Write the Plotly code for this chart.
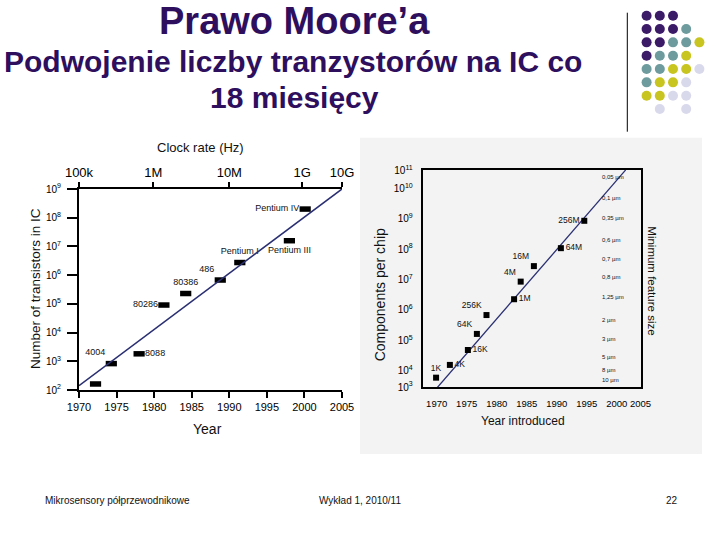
import plotly.graph_objects as go

# ---------------- texts ----------------
title_main = "Prawo Moore’a"
subtitle_1 = "Podwojenie liczby tranzystorów na IC co"
subtitle_2 = "18 miesięcy"
footer_left = "Mikrosensory półprzewodnikowe"
footer_mid = "Wykład 1, 2010/11"
footer_right = "22"

# ---------------- left chart data ----------------
cpu_names = ["", "4004", "8088", "80286", "80386", "486", "Pentium I", "Pentium III", "Pentium IV"]
cpu_years = [1972.2, 1974.3, 1978.0, 1981.3, 1984.2, 1988.8, 1991.4, 1998.0, 2000.1]
cpu_transistors = [162, 830, 1820, 91000, 229000, 676000, 2.75e6, 1.58e7, 2.0e8]
left_trend_years = [1970, 2005]
left_trend_vals = [141, 1e9]
left_year_ticks = [1970, 1975, 1980, 1985, 1990, 1995, 2000, 2005]
left_pow_ticks = [2, 3, 4, 5, 6, 7, 8, 9]
clock_tick_years = [1970, 1979.9, 1990, 1999.7, 2005]
clock_labels = ["100k", "1M", "10M", "1G", "10G"]

# ---------------- right chart data ----------------
dram_names = ["1K", "4K", "16K", "64K", "256K", "1M", "4M", "16M", "64M", "256M"]
dram_years = [1969.9, 1972.2, 1975.2, 1976.7, 1978.3, 1982.9, 1984.0, 1986.2, 1990.7, 1994.6]
dram_components = [5900, 15500, 47900, 162000, 676000, 2.24e6, 8.5e6, 2.75e7, 1.07e8, 8.5e8]
right_trend_years = [1969.5, 2001.5]
right_trend_vals = [2040, 4.0e10]
right_year_ticks = [1970, 1975, 1980, 1985, 1990, 1995, 2000, 2003.98]
right_year_labels = ["1970", "1975", "1980", "1985", "1990", "1995", "2000", "2005"]
right_pow_pos = [3.462, 4, 5, 6, 7, 8, 9, 10, 10.59]
right_pow_labels = [3, 4, 5, 6, 7, 8, 9, 10, 11]
feature_labels = ["0,05 µm", "0,1 µm", "0,35 µm", "0,6 µm", "0,7 µm", "0,8 µm",
                  "1,25 µm", "2 µm", "3 µm", "5 µm", "8 µm", "10 µm"]
feature_pos = [10.38, 9.69, 9.01, 8.30, 7.68, 7.07, 6.42, 5.68, 5.04, 4.45, 4.03, 3.69]

# ---------------- decorative dots ----------------
dot_rows = [0, 0, 0, 1, 1, 1, 1, 2, 2, 2, 2, 2, 3, 3, 3, 3, 4, 4, 4, 4, 4,
            5, 5, 5, 5, 6, 6, 6, 6, 7, 7]
dot_cols = [0, 1, 2, 0, 1, 2, 3, 0, 1, 2, 3, 4, 0, 1, 2, 3, 0, 1, 2, 3, 4,
            0, 1, 2, 3, 0, 1, 2, 3, 1, 3]
dot_kind = ["P", "P", "P", "P", "P", "P", "T", "P", "P", "T", "T", "Y", "P", "T", "T", "Y",
            "T", "T", "Y", "Y", "L", "T", "Y", "Y", "L", "Y", "Y", "L", "L", "L", "L"]

# ---------------- styles ----------------
FONT = "Liberation Sans, Arial, sans-serif"
PURPLE = "#2e0f5e"
NAVY = "#2a2f72"
palette = {"P": "#3b1a68", "T": "#6e9b9d", "Y": "#c9c520", "L": "#d9d9ec"}
cpu_textpos = ["top left", "top left", "middle right", "middle left", "top center",
               "top left", "top center", "bottom center", "middle left"]
dram_textpos = ["top center", "middle right", "middle right", "top left", "top left",
                "middle right", "top left", "top left", "middle right", "middle left"]

fig = go.Figure()

# left chart
fig.add_trace(go.Scatter(x=left_trend_years, y=left_trend_vals, mode="lines",
                         line=dict(color=NAVY, width=1.6), xaxis="x3", yaxis="y",
                         hoverinfo="skip"))
fig.add_trace(go.Scatter(x=cpu_years, y=cpu_transistors, mode="markers+text",
                         text=cpu_names, textposition=cpu_textpos,
                         textfont=dict(size=9, color="#111", family=FONT),
                         marker=dict(symbol="line-ew", size=8, color="black",
                                     line=dict(width=5.5, color="black")),
                         xaxis="x", yaxis="y", cliponaxis=False))

# right chart
fig.add_trace(go.Scatter(x=right_trend_years, y=right_trend_vals, mode="lines",
                         line=dict(color=NAVY, width=1.3), xaxis="x2", yaxis="y2",
                         hoverinfo="skip"))
fig.add_trace(go.Scatter(x=dram_years, y=dram_components, mode="markers+text",
                         text=dram_names, textposition=dram_textpos,
                         textfont=dict(size=8.5, color="#111", family=FONT),
                         marker=dict(symbol="square", size=6, color="black"),
                         xaxis="x2", yaxis="y2", cliponaxis=False))

# decorative dots
fig.add_trace(go.Scatter(x=dot_cols, y=dot_rows, mode="markers",
                         marker=dict(size=10, color=[palette[k] for k in dot_kind]),
                         xaxis="x4", yaxis="y4", hoverinfo="skip"))

ax_common = dict(showgrid=False, zeroline=False, fixedrange=True, color="black",
                 automargin=False)

fig.update_layout(
    width=720, height=540, margin=dict(l=0, r=0, t=0, b=0, pad=0, autoexpand=False),
    paper_bgcolor="white", plot_bgcolor="rgba(0,0,0,0)", showlegend=False,
    font=dict(family=FONT, color="#111"),
    xaxis=dict(**ax_common, domain=[79 / 720, 342 / 720], anchor="y", range=[1970, 2005],
               tickvals=left_year_ticks, ticktext=[str(v) for v in left_year_ticks],
               showline=True, linecolor="black", linewidth=2, tickangle=0,
               ticks="outside", ticklen=6, tickwidth=1.5, tickcolor="black",
               tickfont=dict(size=11)),
    xaxis3=dict(**ax_common, overlaying="x", side="top", anchor="y", range=[1970, 2005],
                tickvals=clock_tick_years, ticktext=clock_labels, tickangle=0,
                showline=True, linecolor="black", linewidth=2,
                ticks="outside", ticklen=5, tickwidth=2, tickcolor="black",
                tickfont=dict(size=13)),
    yaxis=dict(**ax_common, domain=[150 / 540, 351 / 540], anchor="x", type="log",
               range=[2, 9], tickvals=[10 ** k for k in left_pow_ticks],
               ticktext=["10<sup>%d</sup>" % k for k in left_pow_ticks],
               showline=True, linecolor="black", linewidth=2,
               ticks="outside", ticklen=10, tickwidth=2, tickcolor="black",
               ticklabelstandoff=4, tickfont=dict(size=10)),
    xaxis2=dict(**ax_common, domain=[422.7 / 720, 640.7 / 720], anchor="y2", tickangle=0,
                range=[1967.67, 2004.0], tickvals=right_year_ticks, ticktext=right_year_labels,
                showline=True, mirror=True, linecolor="black", linewidth=2,
                ticks="outside", ticklen=6, tickcolor="rgba(0,0,0,0)",
                tickfont=dict(size=9.5)),
    yaxis2=dict(**ax_common, domain=[152.7 / 540, 370 / 540], anchor="x2", type="log",
                range=[3.454, 10.6], tickvals=[10 ** p for p in right_pow_pos],
                ticktext=["10<sup>%d</sup>" % k for k in right_pow_labels],
                showline=True, mirror=True, linecolor="black", linewidth=2,
                ticks="outside", ticklen=6, tickcolor="rgba(0,0,0,0)",
                tickfont=dict(size=10)),
    xaxis4=dict(domain=[640 / 720, 706 / 720], anchor="y4", range=[-0.5, 4.5], visible=False,
                fixedrange=True, automargin=False),
    yaxis4=dict(domain=[424.3 / 540, 531 / 540], anchor="x4", range=[7.5, -0.5], visible=False,
                fixedrange=True, automargin=False),
)

shapes = [
    dict(type="rect", xref="paper", yref="paper", x0=360 / 720, x1=702 / 720,
         y0=(540 - 454) / 540, y1=(540 - 137.7) / 540, fillcolor="#f3f3f3",
         line=dict(width=0), layer="below"),
    dict(type="line", xref="paper", yref="paper", x0=627.3 / 720, x1=627.3 / 720,
         y0=(540 - 131.7) / 540, y1=(540 - 12.7) / 540, line=dict(color="black", width=1)),
]
fig.update_layout(shapes=shapes)


def px(x):
    return x / 720


def py(y):
    return (540 - y) / 540


ann = []
ann.append(dict(text="<b>%s</b>" % title_main, x=px(294), y=py(20.5),
                font=dict(size=38, color=PURPLE, family=FONT), xanchor="center", yanchor="middle"))
ann.append(dict(text="<b>%s</b>" % subtitle_1, x=px(293), y=py(61.2),
                font=dict(size=30, color=PURPLE, family=FONT), xanchor="center", yanchor="middle"))
ann.append(dict(text="<b>%s</b>" % subtitle_2, x=px(294), y=py(97.5),
                font=dict(size=30, color=PURPLE, family=FONT), xanchor="center", yanchor="middle"))
# left axis titles
ann.append(dict(text="Clock rate (Hz)", x=px(200), y=py(147.7), font=dict(size=13),
                xanchor="center", yanchor="middle"))
ann.append(dict(text="Year", x=px(208), y=py(429), font=dict(size=14),
                xanchor="center", yanchor="middle"))
ann.append(dict(text="Number of transistors in IC", x=px(35), y=py(289), textangle=-90,
                font=dict(size=13.5), xanchor="center", yanchor="middle"))
# right axis titles
ann.append(dict(text="Components per chip", x=px(380.3), y=py(295), textangle=-90,
                font=dict(size=14), xanchor="center", yanchor="middle"))
ann.append(dict(text="Year introduced", x=px(523.3), y=py(421), font=dict(size=12),
                xanchor="center", yanchor="middle"))
ann.append(dict(text="Minimum feature size", x=px(651.7), y=py(281), textangle=90,
                font=dict(size=11.5), xanchor="center", yanchor="middle"))
# feature size labels
for lab, pos in zip(feature_labels, feature_pos):
    ann.append(dict(text=lab, xref="paper", x=px(600), yref="y2", y=pos,
                    font=dict(size=6), xanchor="left", yanchor="middle"))
# footer
ann.append(dict(text=footer_left, x=px(43), y=py(500), font=dict(size=10),
                xanchor="left", yanchor="middle"))
ann.append(dict(text=footer_mid, x=px(360), y=py(500), font=dict(size=10),
                xanchor="center", yanchor="middle"))
ann.append(dict(text=footer_right, x=px(672), y=py(500), font=dict(size=10),
                xanchor="center", yanchor="middle"))

for a in ann:
    a.setdefault("xref", "paper")
    a.setdefault("yref", "paper")
    a["showarrow"] = False
fig.update_layout(annotations=ann)

fig.write_html("out.html", config={"displayModeBar": False},
               post_script="document.body.style.margin='0';document.body.style.padding='0';")
